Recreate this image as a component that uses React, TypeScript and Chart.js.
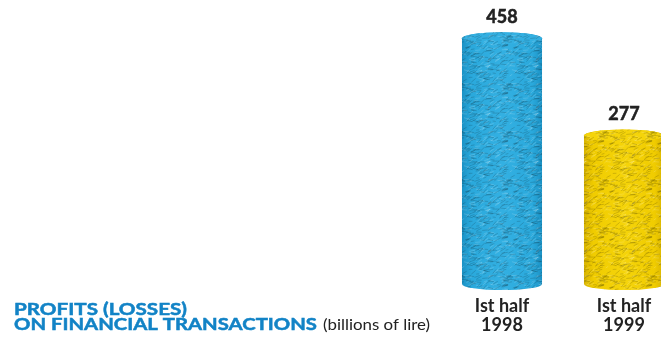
import React, { useEffect, useRef } from "react";
import { Chart, registerables } from "chart.js";

Chart.register(...registerables);

// ---- data ----
const categories: string[][] = [["Ist half", "1998"], ["Ist half", "1999"]];
const values: number[] = [458, 277];
const barColors: string[] = ["#2aa9dc", "#f0cc00"];
const edgeColors: string[] = ["#1b92c5", "#d8b400"];
const capColors: string[] = ["#33b0e2", "#f5d40a"];
const titleLine1 = "PROFITS (LOSSES)";
const titleLine2 = "ON FINANCIAL TRANSACTIONS";
const titleUnit = "(billions of lire)";

const FONT = "Lato, 'Open Sans', 'DejaVu Sans', sans-serif";

function hash(n: number): number {
  const s = Math.sin(n * 12.9898) * 43758.5453;
  return s - Math.floor(s);
}

function makeTexture(): HTMLCanvasElement {
  const c = document.createElement("canvas");
  c.width = 48;
  c.height = 48;
  const g = c.getContext("2d")!;
  g.lineCap = "round";
  for (let i = 0; i < 220; i++) {
    const px = hash(i + 1) * 48;
    const py = hash(i + 1000) * 48;
    const a = -0.6 + hash(i + 2000) * 1.2 - 0.3;
    const len = 2 + hash(i + 3000) * 4;
    g.strokeStyle = i % 3 === 0 ? "rgba(255,255,255,0.16)" : "rgba(0,0,0,0.16)";
    g.lineWidth = 1;
    for (let dx = -48; dx <= 48; dx += 48) {
      for (let dy = -48; dy <= 48; dy += 48) {
        g.beginPath();
        g.moveTo(px + dx, py + dy);
        g.lineTo(px + dx + Math.cos(a) * len, py + dy + Math.sin(a) * len);
        g.stroke();
      }
    }
  }
  return c;
}

const cylinderPlugin = {
  id: "cylinders",
  afterDatasetsDraw(chart: any) {
    const ctx: CanvasRenderingContext2D = chart.ctx;
    const meta = chart.getDatasetMeta(0);
    const pattern = ctx.createPattern(makeTexture(), "repeat");
    meta.data.forEach((bar: any, i: number) => {
      const { x, y, base, width } = bar.getProps(["x", "y", "base", "width"], true);
      const rx = width / 2;
      const ry = 6;
      const left = x - rx;
      const right = x + rx;
      ctx.save();
      ctx.beginPath();
      ctx.moveTo(left, y);
      ctx.lineTo(left, base);
      ctx.ellipse(x, base, rx, ry, 0, Math.PI, 0, true);
      ctx.lineTo(right, y);
      ctx.ellipse(x, y, rx, ry, 0, 0, Math.PI, true);
      ctx.closePath();
      const grad = ctx.createLinearGradient(left, 0, right, 0);
      grad.addColorStop(0, edgeColors[i]);
      grad.addColorStop(0.12, barColors[i]);
      grad.addColorStop(0.5, capColors[i]);
      grad.addColorStop(0.88, barColors[i]);
      grad.addColorStop(1, edgeColors[i]);
      ctx.fillStyle = grad;
      ctx.fill();
      if (pattern) {
        ctx.fillStyle = pattern;
        ctx.fill();
      }
      ctx.beginPath();
      ctx.ellipse(x, y, rx, ry, 0, 0, Math.PI * 2);
      ctx.fillStyle = capColors[i];
      ctx.fill();
      if (pattern) {
        ctx.fillStyle = pattern;
        ctx.fill();
      }
      ctx.restore();

      ctx.save();
      ctx.font = `bold 18px ${FONT}`;
      ctx.fillStyle = "#222222";
      ctx.strokeStyle = "#222222";
      ctx.lineWidth = 0.5;
      ctx.textAlign = "center";
      ctx.textBaseline = "middle";
      ctx.fillText(String(values[i]), x, y - 21);
      ctx.strokeText(String(values[i]), x, y - 21);
      ctx.restore();
    });
  },
};

function fitText(ctx: CanvasRenderingContext2D, text: string, x: number, y: number, targetW: number, stroke: boolean) {
  const w = ctx.measureText(text).width;
  ctx.save();
  ctx.translate(x, y);
  ctx.scale(targetW / w, 1);
  ctx.fillText(text, 0, 0);
  if (stroke) ctx.strokeText(text, 0, 0);
  ctx.restore();
}

const titlePlugin = {
  id: "sideTitle",
  afterDraw(chart: any) {
    const ctx: CanvasRenderingContext2D = chart.ctx;
    ctx.save();
    ctx.textAlign = "left";
    ctx.textBaseline = "alphabetic";
    ctx.font = `bold 17px ${FONT}`;
    ctx.fillStyle = "#1283c6";
    ctx.strokeStyle = "#1283c6";
    ctx.lineWidth = 0.5;
    fitText(ctx, titleLine1, 14, 315, 173, true);
    fitText(ctx, titleLine2, 14, 330, 303, true);
    ctx.font = `15px ${FONT}`;
    ctx.fillStyle = "#222222";
    fitText(ctx, titleUnit, 323, 330, 107, false);
    ctx.restore();
  },
};

export default function App() {
  const ref = useRef<HTMLCanvasElement>(null);
  useEffect(() => {
    if (!ref.current) return;
    const chart = new Chart(ref.current, {
      type: "bar",
      data: {
        labels: categories,
        datasets: [
          {
            data: values,
            backgroundColor: "rgba(0,0,0,0)",
            borderWidth: 0,
            categoryPercentage: 1,
            barPercentage: 0.656,
          },
        ],
      },
      options: {
        responsive: false,
        animation: false,
        layout: { padding: { left: 441, right: 15, top: 5, bottom: -4 } },
        plugins: { legend: { display: false }, tooltip: { enabled: false }, title: { display: false } },
        scales: {
          x: {
            grid: { display: false, drawTicks: false },
            border: { display: false },
            ticks: {
              padding: 12,
              color: "#222222",
              font: { family: FONT, size: 18, weight: "bold", lineHeight: 1.08 },
            },
          },
          y: { display: false, min: 0, max: 520 },
        },
      },
      plugins: [cylinderPlugin, titlePlugin],
    });
    return () => chart.destroy();
  }, []);
  return (
    <div style={{ position: "absolute", left: 0, top: 0, width: 661, height: 343, overflow: "hidden", background: "#ffffff" }}>
      <canvas ref={ref} width={700} height={343} style={{ display: "block" }} />
    </div>
  );
}
